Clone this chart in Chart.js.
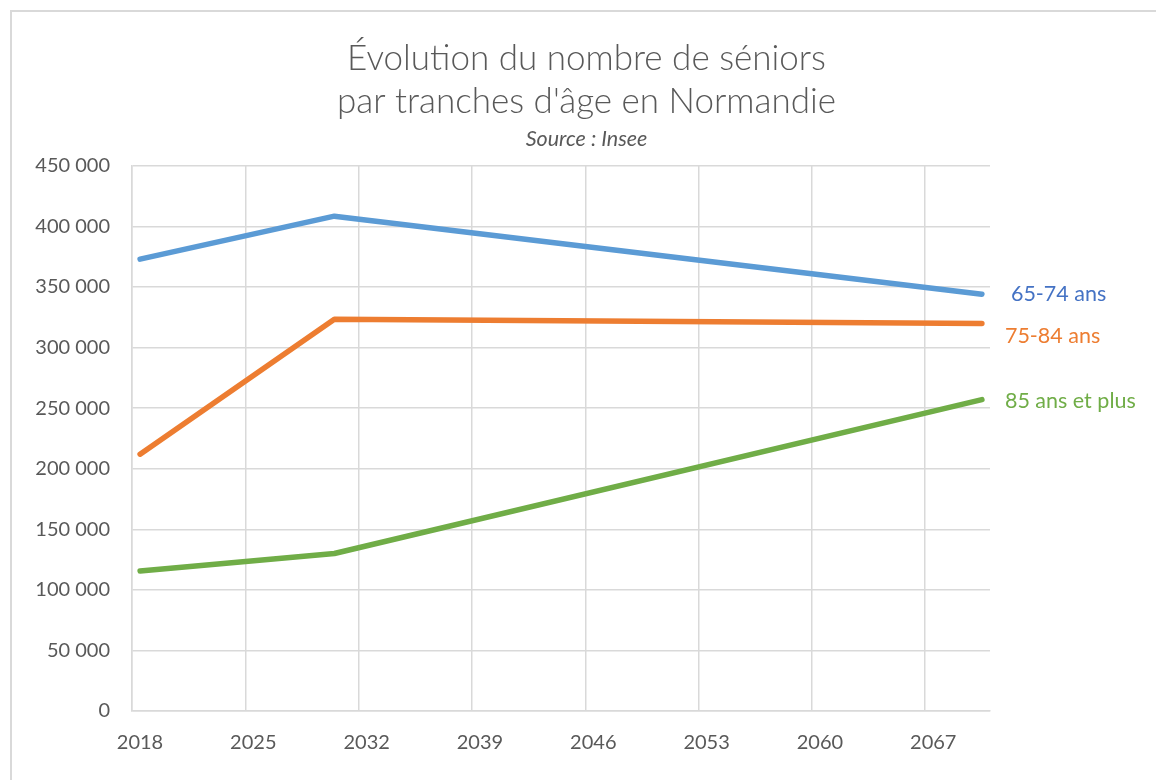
<!DOCTYPE html>
<html lang="fr">
<head>
<meta charset="utf-8">
<title>Évolution du nombre de séniors</title>
<script src="https://cdn.jsdelivr.net/npm/chart.js@4"></script>
<style>
    html, body { margin: 0; padding: 0; background: #fff; overflow: hidden; }
    .frame {
        position: absolute; left: 10px; top: 10px;
        width: 1300px; height: 900px;
        border: 2px solid #d9d9d9;
    }
    .chart-box { position: absolute; left: 0; top: 0; width: 1156px; height: 780px; }
</style>
</head>
<body>
<div class="frame"></div>
<div class="chart-box"><canvas id="chart"></canvas></div>
<script>
// données (Insee, Normandie)
const years = [2018, 2030, 2070];
const ages65_74 = [373000, 408500, 344100];
const ages75_84 = [212000, 323500, 319900];
const ages85plus = [115600, 130000, 257100];

const seriesNames = ['65-74 ans', '75-84 ans', '85 ans et plus'];
const lineColors = ['#5B9BD5', '#ED7D31', '#70AD47'];
const labelColors = ['#4472C4', '#ED7D31', '#70AD47'];
const yearTicks = [2018, 2025, 2032, 2039, 2046, 2053, 2060, 2067];

const FONT = 'Lato, "Open Sans", sans-serif';
const GRID = '#d9d9d9';
const TEXT = '#595959';

function formatThousands(v) {
    return String(v).replace(/\B(?=(\d{3})+(?!\d))/g, ' ');
}

function toPoints(values) {
    return values.map((y, i) => ({ x: years[i], y }));
}

// étiquettes à droite de chaque courbe, à la place d'une légende
const endLabels = {
    id: 'endLabels',
    afterDatasetsDraw(chart) {
        const ctx = chart.ctx;
        const offsets = [[29, 0], [23, 13], [23, 1]];
        ctx.save();
        ctx.font = '21.5px ' + FONT;
        ctx.textAlign = 'left';
        ctx.textBaseline = 'middle';
        chart.data.datasets.forEach((ds, i) => {
            const meta = chart.getDatasetMeta(i);
            const last = meta.data[meta.data.length - 1];
            ctx.fillStyle = labelColors[i];
            ctx.fillText(seriesNames[i], last.x + offsets[i][0], last.y + offsets[i][1]);
        });
        ctx.restore();
    },
};

const datasets = [ages65_74, ages75_84, ages85plus].map((values, i) => ({
    label: seriesNames[i],
    data: toPoints(values),
    borderColor: lineColors[i],
    backgroundColor: lineColors[i],
    borderWidth: 5.5,
    borderCapStyle: 'round',
    borderJoinStyle: 'round',
    pointRadius: 0,
    tension: 0,
}));

new Chart(document.getElementById('chart'), {
    type: 'line',
    data: { datasets },
    options: {
        responsive: true,
        maintainAspectRatio: false,
        animation: false,
        layout: { padding: { left: 17, right: 0, top: 0, bottom: 0 } },
        plugins: {
            legend: { display: false },
            tooltip: { enabled: false },
            title: {
                display: true,
                text: ['Évolution du nombre de séniors', "par tranches d'âge en Normandie"],
                color: TEXT,
                font: { family: FONT, size: 35, weight: 300, lineHeight: 1.23 },
                padding: { top: 37, bottom: 0 },
            },
            subtitle: {
                display: true,
                text: 'Source : Insee',
                color: TEXT,
                font: { family: FONT, size: 21.5, style: 'italic', weight: 'normal', lineHeight: 1.2 },
                padding: { top: 3, bottom: 14 },
            },
        },
        scales: {
            x: {
                type: 'linear',
                min: 2017.5,
                max: 2070.5,
                afterBuildTicks: (scale) => {
                    scale.ticks = yearTicks.map((y) => ({ value: y - 0.5 }));
                },
                afterFit: (scale) => { scale.height = 69; },
                grid: { color: GRID, lineWidth: 1.5, drawTicks: false },
                border: { color: GRID, width: 1.5 },
                ticks: {
                    color: TEXT,
                    font: { family: FONT, size: 20 },
                    padding: 20,
                    labelOffset: 8,
                    maxRotation: 0,
                    autoSkip: false,
                    callback: (v) => String(v + 0.5),
                },
            },
            y: {
                min: 0,
                max: 450000,
                afterFit: (scale) => { scale.width = 115; },
                grid: { color: GRID, lineWidth: 1.5, drawTicks: false },
                border: { color: GRID, width: 1.5 },
                ticks: {
                    stepSize: 50000,
                    color: TEXT,
                    font: { family: FONT, size: 20 },
                    padding: 22,
                    callback: (v) => formatThousands(v),
                },
            },
            // axe vide : réserve la place des étiquettes à droite
            labelsSpace: {
                position: 'right',
                afterFit: (scale) => { scale.width = 166; },
                grid: { display: false },
                border: { display: false },
                ticks: { display: false },
            },
        },
    },
    plugins: [endLabels],
});
</script>
</body>
</html>
